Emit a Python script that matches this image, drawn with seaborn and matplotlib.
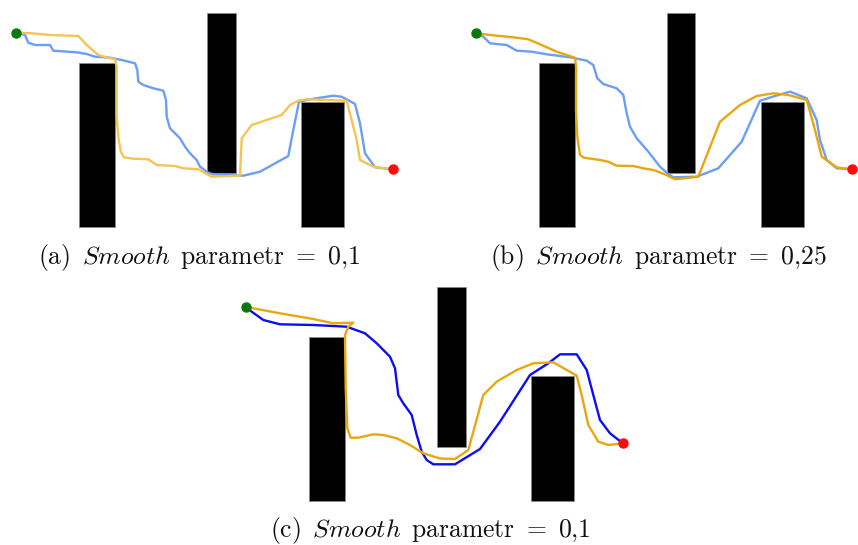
import numpy as np
import pandas as pd
import matplotlib
matplotlib.use("Agg")
import matplotlib.pyplot as plt
import seaborn as sns

sns.set_theme(style="white")
plt.rcParams['mathtext.fontset'] = 'cm'
plt.rcParams['font.family'] = ['DejaVu Serif']

# ---- map data (pixel-like map units, y grows downward) ----
obs_x0 = [79.3, 207.3, 301.0]
obs_x1 = [115.0, 236.0, 344.3]
obs_y0 = [63.3, 12.7, 102.3]
obs_y1 = [226.7, 172.7, 226.7]

start_pt = (16.0, 32.7)
goal_pt = (393.0, 169.4)

# panel (a)
a_orange_x = [16, 31.7, 50, 78.3, 86.7, 98.3, 106.7, 115, 116.7, 116.7, 118.3, 120.7, 124, 133.3, 148.3, 156.7,
              175, 183.3, 198.3, 206.7, 211.7, 240, 241.7, 251.7, 266.7, 281.7, 290, 298.3, 306.7, 346.7,
              353.3, 356.7, 360, 373.3, 393]
a_orange_y = [32.7, 33.3, 35, 36, 45, 55, 57.3, 59.3, 66.7, 116.7, 136.7, 151.7, 157.3, 158.7, 159.3, 165,
              166, 168.3, 169.3, 174, 176.7, 175.7, 138.3, 125, 120, 115, 105, 100.7, 99.3, 100.7,
              126.7, 140, 160, 166.7, 169.4]
a_blue_x = [16, 25, 28.3, 35, 50, 53.3, 76.7, 86.7, 95, 110, 121.7, 135, 137.3, 138.3, 143.3, 153.3, 163.3,
            166, 166.7, 170, 180, 185, 190, 196.7, 200, 208.3, 213.3, 225, 243.3, 260, 288.3, 293.3, 299,
            310, 333.3, 341.7, 355, 360, 365, 375, 393]
a_blue_y = [32.7, 35, 42.7, 45, 45, 50.7, 52.3, 54, 56.7, 57.7, 60, 63.3, 70, 81.7, 85, 88.3, 90.7,
            100, 116.7, 128.3, 138.3, 146.7, 153.3, 160, 166.7, 172.7, 174.3, 175, 175.7, 171.7, 156, 130, 101.7,
            99.3, 95.7, 96.7, 104, 123.3, 153.3, 167.3, 169.4]

# panel (b)
b_orange_x = [16, 22.2, 37.2, 53.8, 68.8, 80.5, 97.2, 115.5, 116.5, 116.5, 117.8, 120.5, 124.5, 140.5, 148.8,
              157.2, 173.8, 183.8, 193.8, 205.5, 215.5, 238.8, 260.5, 280.5, 297.2, 313.8, 328.8, 347.2,
              355.5, 362.2, 377.2, 393]
b_orange_y = [32.7, 34, 35.7, 37.3, 39.3, 44.3, 51.7, 57.7, 66.7, 110, 136.7, 155, 157.7, 160, 161.7,
              165.7, 166, 168.3, 170, 174.3, 179.3, 176.7, 121.7, 105, 96, 93.3, 95, 100,
              130, 156.7, 167.3, 169.4]
b_blue_x = [16, 23.8, 30.5, 47.2, 57.2, 72.2, 87.2, 110.5, 127.2, 133.8, 137.8, 143.8, 157.2, 163.8, 167.2,
            170.5, 177.2, 188.8, 200.5, 208.8, 213.8, 237.2, 258.8, 282.2, 300.5, 315.5, 330.5, 347.2,
            357.2, 360.5, 367.2, 377.2, 393]
b_blue_y = [32.7, 36.7, 43.3, 45, 50.7, 51.7, 54.3, 57.3, 60.7, 65, 78.3, 84, 88.3, 95, 113.3,
            126.7, 138.3, 151.7, 166.7, 174, 177.3, 176.7, 168.3, 141.7, 100.7, 96, 91.7, 98.3,
            120, 140, 160, 168.3, 169.4]

# panel (c)
c_orange_x = [16, 20, 50, 83.3, 103.3, 123.3, 118.3, 115, 115.7, 117.3, 120.7, 128.3, 143.3, 153.3, 166.7,
              180, 193.3, 210, 225, 238.3, 253.3, 266.7, 286.7, 303.3, 323.3, 346.7, 351.7, 358.3, 368.3,
              378.3, 393]
c_orange_y = [32.7, 33.7, 39.3, 45, 49.3, 48.7, 52.7, 61, 114.3, 154.3, 163.7, 163.7, 160.3, 161, 164.3,
              171, 179.3, 184.5, 185, 176, 121, 107.7, 96, 89.3, 88.3, 101.7, 121, 151, 167.7,
              171, 169.4]
c_blue_x = [16, 21.7, 33.3, 50, 83.3, 116.7, 135, 146.7, 160, 165, 168.3, 173.3, 181.7, 186.7, 191.7, 196.7,
            203.3, 225, 250, 270, 300, 318.3, 330, 346.7, 356.7, 363.3, 370, 380, 393]
c_blue_y = [32.7, 37.7, 46, 50.3, 51, 52.7, 59.3, 69.3, 82.7, 94.3, 121, 129.3, 141, 161, 177.7, 186,
            190.3, 190.3, 175, 147.7, 101, 89.3, 80.3, 80.3, 96, 121, 146, 159.3, 169.4]

captions = [r"$\mathrm{(a)}\ \,\mathit{Smooth}\ \,\mathrm{parametr}\ =\ 0{,}1$",
            r"$\mathrm{(b)}\ \,\mathit{Smooth}\ \,\mathrm{parametr}\ =\ 0{,}25$",
            r"$\mathrm{(c)}\ \,\mathit{Smooth}\ \,\mathrm{parametr}\ =\ 0{,}1$"]

panels = [
    dict(left=0.0, top=0.0, ox=a_orange_x, oy=a_orange_y, bx=a_blue_x, by=a_blue_y,
         oc="#F6C452", bc="#6A9EF8", cap=(199, 264)),
    dict(left=459.5, top=0.0, ox=b_orange_x, oy=b_orange_y, bx=b_blue_x, by=b_blue_y,
         oc="#E9A611", bc="#6A9EF8", cap=(659, 264)),
    dict(left=230.0, top=274.0, ox=c_orange_x, oy=c_orange_y, bx=c_blue_x, by=c_blue_y,
         oc="#E9A611", bc="#0D0DF2", cap=(430, 537)),
]

W, H = 858, 545
fig = plt.figure(figsize=(W / 100, H / 100), dpi=100)
fig.patch.set_facecolor("white")
AW, AH = 400.0, 240.0

for i, p in enumerate(panels):
    ax = fig.add_axes([p['left'] / W, 1 - (p['top'] + AH) / H, AW / W, AH / H])
    for x0, x1, y0, y1 in zip(obs_x0, obs_x1, obs_y0, obs_y1):
        ax.bar(x0, y1 - y0, width=x1 - x0, bottom=y0, align='edge', color='black',
               edgecolor='#888888', linewidth=0.6, zorder=1)
    df_o = pd.DataFrame({'x': p['ox'], 'y': p['oy']})
    df_b = pd.DataFrame({'x': p['bx'], 'y': p['by']})
    sns.lineplot(data=df_o, x='x', y='y', sort=False, estimator=None, color=p['oc'],
                 linewidth=1.7, ax=ax, zorder=3)
    sns.lineplot(data=df_b, x='x', y='y', sort=False, estimator=None, color=p['bc'],
                 linewidth=1.7, ax=ax, zorder=2)
    ax.plot([start_pt[0]], [start_pt[1]], 'o', color='#0B7A0B', markersize=6.5, zorder=5)
    ax.plot([goal_pt[0]], [goal_pt[1]], 'o', color='#FF0A0A', markersize=6.5, zorder=5)
    ax.set_xlim(0, AW)
    ax.set_ylim(AH, 0)
    ax.axis('off')
    cx, cy = p['cap']
    fig.text(cx / W, 1 - cy / H, captions[i], ha='center', va='baseline',
             fontsize=18.5, color='#111111')

fig.savefig("out.png", dpi=100, facecolor="white")
